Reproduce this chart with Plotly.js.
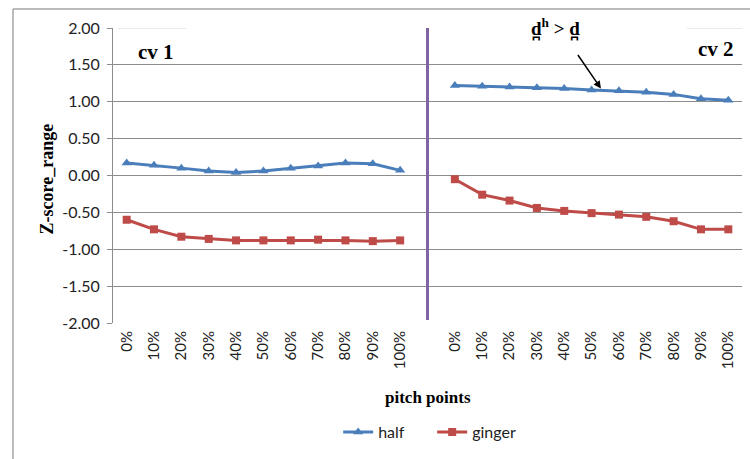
<!DOCTYPE html>
<html>
<head>
<meta charset="utf-8">
<script src="https://cdn.plot.ly/plotly-3.0.1.min.js"></script>
<style>html,body{margin:0;padding:0;background:#fff;}#chart{width:750px;height:459px;}</style>
</head>
<body>
<div id="chart"></div>
<script>
// Pitch points along each vowel (cv 1 and cv 2)
const pitchPoints = ["0%", "10%", "20%", "30%", "40%", "50%", "60%", "70%", "80%", "90%", "100%"];

// Z-score range, "half"
const halfCv1 = [0.17, 0.14, 0.10, 0.06, 0.04, 0.06, 0.10, 0.13, 0.17, 0.16, 0.07];
const halfCv2 = [1.22, 1.21, 1.20, 1.19, 1.18, 1.16, 1.15, 1.13, 1.10, 1.04, 1.02];

// Z-score range, "ginger"
const gingerCv1 = [-0.60, -0.73, -0.83, -0.86, -0.88, -0.88, -0.88, -0.87, -0.88, -0.89, -0.88];
const gingerCv2 = [-0.05, -0.26, -0.34, -0.44, -0.48, -0.51, -0.53, -0.56, -0.62, -0.73, -0.73];

const yTicks = [2, 1.5, 1, 0.5, 0, -0.5, -1, -1.5, -2];

// Category slots: cv 1 block, one empty slot, cv 2 block
const n = pitchPoints.length;
const gap = n;                      // index of the empty separator slot
const xCv1 = pitchPoints.map((_, i) => i);
const xCv2 = pitchPoints.map((_, i) => gap + 1 + i);
const xAll = xCv1.concat([gap], xCv2);
const yNull = [null];
const lastSlot = 2 * n;

const blue = "#4a7ebb";
const red = "#be4b48";
const grid = "#8c8c8c";
const sans = "Lato, 'Open Sans', sans-serif";
const serifBold = "'Liberation Serif', 'Times New Roman', serif";

const traces = [
  {
    x: xAll, y: halfCv1.concat(yNull, halfCv2), name: "half",
    type: "scatter", mode: "lines+markers", connectgaps: false,
    line: {color: blue, width: 3},
    marker: {symbol: "triangle-up", size: 9, color: blue}
  },
  {
    x: xAll, y: gingerCv1.concat(yNull, gingerCv2), name: "ginger",
    type: "scatter", mode: "lines+markers", connectgaps: false,
    line: {color: red, width: 3},
    marker: {symbol: "square", size: 8, color: red}
  }
];

const boundaries = [];
for (let i = 0; i <= lastSlot + 1; i++) boundaries.push(i - 0.5);

// text boxes sitting on the top gridline
const topLine = (x0, x1, color, width) => ({
  type: "line", xref: "paper", yref: "y", x0: x0, x1: x1, y0: 2, y1: 2,
  line: {color: color, width: width}
});

const layout = {
  width: 750, height: 459,
  margin: {l: 113, r: 8, t: 28, b: 136},
  paper_bgcolor: "#fff", plot_bgcolor: "#fff",
  showlegend: true,
  xaxis: {
    range: [-0.5, lastSlot + 0.5],
    tickvals: xCv1.concat(xCv2),
    ticktext: pitchPoints.concat(pitchPoints),
    tickangle: -90,
    tickfont: {family: sans, size: 15, color: "#222"},
    ticklabelstandoff: 4,
    ticks: "",
    showgrid: false, zeroline: false, showline: false,
    fixedrange: true
  },
  // horizontal axis crossing at zero, tick marks on slot boundaries
  xaxis2: {
    overlaying: "x", matches: "x", anchor: "free", position: 0.5,
    tickvals: boundaries, showticklabels: false,
    ticks: "outside", ticklen: 5, tickcolor: grid, tickwidth: 1,
    showline: true, linecolor: grid, linewidth: 1,
    showgrid: false, zeroline: false
  },
  yaxis: {
    range: [-2, 2],
    tickvals: yTicks,
    ticktext: yTicks.map(v => v.toFixed(2)),
    tickfont: {family: sans, size: 16, color: "#222"},
    ticklabelstandoff: 4,
    ticks: "outside", ticklen: 5, tickcolor: grid,
    showline: true, linecolor: grid, linewidth: 1,
    showgrid: true, gridcolor: grid, gridwidth: 1,
    zeroline: false, fixedrange: true
  },
  legend: {
    orientation: "h", x: 0.358, xanchor: "left", y: -0.37, yanchor: "middle",
    entrywidth: 49, entrywidthmode: "pixels",
    font: {family: sans, size: 16, color: "#222"},
    bgcolor: "rgba(0,0,0,0)"
  },
  shapes: [
    // separator between cv 1 and cv 2
    {type: "line", xref: "x", yref: "y", x0: gap, x1: gap, y0: -1.96, y1: 2,
     line: {color: "#8064a2", width: 3}},
    // chart frame, left and top edges
    {type: "line", xref: "paper", yref: "paper", x0: -0.159, x1: -0.159, y0: 1.064, y1: -0.47,
     line: {color: "#a6a6a6", width: 1.5}},
    {type: "line", xref: "paper", yref: "paper", x0: -0.159, x1: 1.02, y0: 1.064, y1: 1.064,
     line: {color: "#a6a6a6", width: 1.5}},
    topLine(0.008, 0.116, "#fff", 3),
    topLine(0.008, 0.116, "#d4d4d4", 1),
    topLine(0.912, 1.0, "#fff", 3),
    topLine(0.912, 1.0, "#d4d4d4", 1),
    topLine(0.631, 0.777, "#fff", 3)
  ],
  annotations: [
    {text: "<b>cv 1</b>", xref: "paper", yref: "paper", x: 0.036, y: 0.92,
     xanchor: "left", yanchor: "middle", showarrow: false,
     font: {family: serifBold, size: 21, color: "#000"}},
    {text: "<b>cv 2</b>", xref: "paper", yref: "paper", x: 0.99, y: 0.93,
     xanchor: "right", yanchor: "middle", showarrow: false,
     font: {family: serifBold, size: 21, color: "#000"}},
    {text: "<b>d\u032A<sup>h</sup> > d\u032A</b>", xref: "paper", yref: "paper", x: 0.703, y: 1.0,
     xanchor: "center", yanchor: "middle", showarrow: false,
     font: {family: serifBold, size: 19, color: "#000"}},
    {text: "", xref: "x", yref: "y", x: 17.34, y: 1.18, ax: -24, ay: -35,
     showarrow: true, arrowhead: 2, arrowsize: 1, arrowwidth: 1.5, arrowcolor: "#000"},
    {text: "<b>pitch points</b>", xref: "paper", yref: "paper", x: 0.5, y: -0.251,
     xanchor: "center", yanchor: "middle", showarrow: false,
     font: {family: serifBold, size: 17, color: "#000"}},
    {text: "<b>Z-score_range</b>", xref: "paper", yref: "paper", x: -0.105, y: 0.49,
     xanchor: "center", yanchor: "middle", textangle: -90, showarrow: false,
     font: {family: serifBold, size: 18, color: "#000"}}
  ]
};

Plotly.newPlot("chart", traces, layout, {staticPlot: true, displayModeBar: false});
</script>
</body>
</html>
